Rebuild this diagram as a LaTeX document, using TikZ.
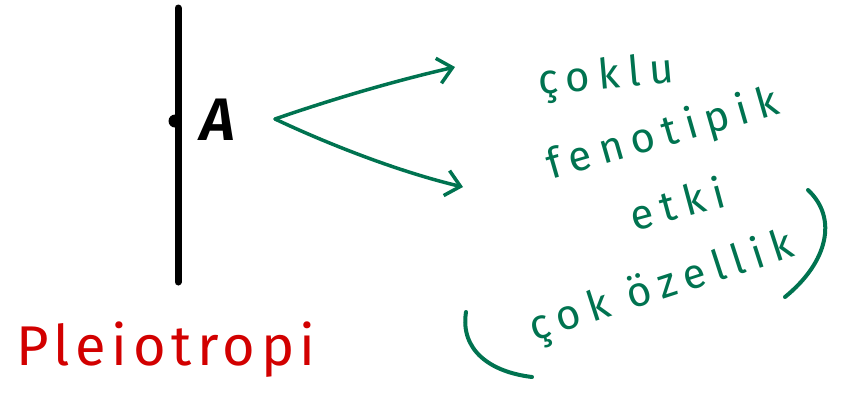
\documentclass[tikz,border=0pt]{standalone}
\usepackage{fontspec}
\newfontfamily\handfont[LetterSpace=20]{Fira Sans}
\newfontfamily\wideface[LetterSpace=10]{Fira Sans}
\usetikzlibrary{arrows.meta}
\definecolor{leafgreen}{RGB}{0,115,80}
\definecolor{inkred}{RGB}{210,0,0}

\begin{document}
\begin{tikzpicture}[
  x=1pt, y=-1pt,
  chrom/.style={line width=7pt, line cap=round},
  locusdot/.style={circle, fill=black, inner sep=0pt, minimum size=13pt},
  note/.style={font=\handfont\fontsize{42}{46}\selectfont, text=leafgreen, inner sep=0pt},
  arr/.style={leafgreen, line width=3.5pt, line cap=round, -{Straight Barb[length=5mm, width=9mm]}},
  paren/.style={leafgreen, line width=4pt, line cap=round},
]
\useasboundingbox (0,0) rectangle (842,400);

% ---------------- chromosome with locus ----------------
\coordinate (chromtop) at (178,8);
\coordinate (chrombot) at (178,282);
\draw[chrom] (chromtop) -- (chrombot);
\node[locusdot] (locus) at (175,121) {};
\node[font=\fontspec{Fira Sans SemiBold Italic}\fontsize{60}{60}\selectfont, inner sep=0pt] (gene) at (218,120) {A};

% ---------------- arrows to effects ----------------
\coordinate (split) at (275,119);
\coordinate (tipup) at (455,67);
\coordinate (tipdown) at (463,187);
\draw[arr] (split) .. controls (330,100) and (390,82) .. (tipup);
\draw[arr] (split) .. controls (330,145) and (400,172) .. (tipdown);

% ---------------- green notes ----------------
\node[note, rotate=5] (coklu) at (606,78) {çoklu};
\node[note, rotate=16] (fenotipik) at (663,135) {fenotipik};
\node[note, rotate=15] (etki) at (677,203) {etki};
\node[note, rotate=18] (ozellik) at (662,288) {çok özellik};
\coordinate (lpar) at (466,312);
\coordinate (rpar) at (808,190);
\draw[paren] (lpar) .. controls (460,350) and (490,372) .. (532,377);
\draw[paren] (rpar) .. controls (838,218) and (828,262) .. (785,297);

% ---------------- label ----------------
\node[font=\wideface\fontsize{56}{60}\selectfont, text=inkred, inner sep=0pt] (pleio) at (166,350) {Pleiotropi};

\end{tikzpicture}
\end{document}
